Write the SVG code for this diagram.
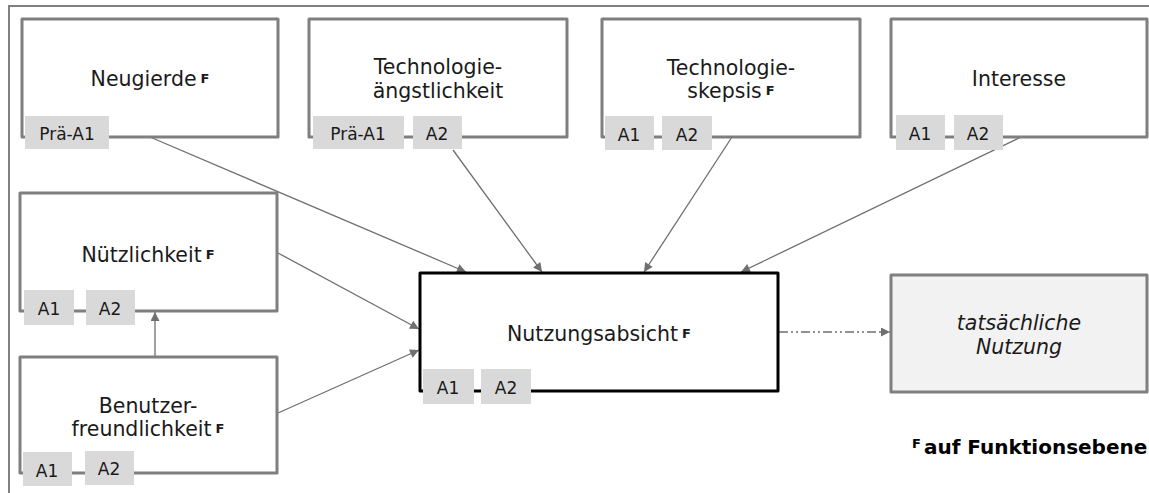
<svg xmlns="http://www.w3.org/2000/svg" width="1149" height="493" viewBox="0 0 1149 493">
  <style>
    .frame { fill: none; stroke: #808080; stroke-width: 2; }
    .box { fill: #ffffff; stroke: #7f7f7f; stroke-width: 3; stroke-linejoin: round; }
    .main { fill: #ffffff; stroke: #000000; stroke-width: 3; stroke-linejoin: round; }
    .out { fill: #f2f2f2; stroke: #7f7f7f; stroke-width: 3; stroke-linejoin: round; }
    .tag { fill: #d9d9d9; }
    .lbl { font-family: "DejaVu Sans", Verdana, sans-serif; font-size: 20.5px; fill: #1a1a1a; text-anchor: middle; }
    .it { font-style: italic; }
    .tagt { font-family: "DejaVu Sans", Verdana, sans-serif; font-size: 17px; fill: #1a1a1a; text-anchor: middle; }
    .sup { font-size: 13px; font-weight: bold; }
    .legend { font-family: "DejaVu Sans", Verdana, sans-serif; font-size: 20px; font-weight: bold; fill: #000000; }
    .edge { fill: none; stroke: #6f6f6f; stroke-width: 1.3; marker-end: url(#arrow); }
    .dash { stroke-dasharray: 9 3 2 3 2 3; }
  </style>
  <defs>
    <marker id="arrow" viewBox="0 0 10 10" refX="10" refY="5" markerWidth="11" markerHeight="9" markerUnits="userSpaceOnUse" orient="auto">
      <path d="M0,0 L10,5 L0,10 Z" fill="#6f6f6f"/>
    </marker>
  </defs>

  <!-- outer frame, open to the right and bottom -->
  <rect class="frame" x="9" y="6" width="1160" height="500"/>

  <g id="connectors">
    <line class="edge" x1="150" y1="137" x2="466" y2="272"/>
    <line class="edge" x1="453" y1="150" x2="542" y2="272"/>
    <line class="edge" x1="732" y1="137" x2="644" y2="272"/>
    <line class="edge" x1="1021" y1="137" x2="741" y2="272"/>
    <line class="edge" x1="278" y1="253" x2="419" y2="329"/>
    <line class="edge" x1="278" y1="413" x2="419" y2="350"/>
    <line class="edge" x1="155" y1="356" x2="155" y2="312"/>
    <line class="edge dash" x1="779" y1="332" x2="890" y2="332"/>
  </g>

  <g id="neugierde">
    <rect class="box" x="22" y="19" width="256" height="118"/>
    <text class="lbl" x="150" y="86">Neugierde<tspan class="sup" dx="4" dy="-3">F</tspan></text>
    <rect class="tag" x="25" y="116" width="84" height="33"/>
    <text class="tagt" x="67" y="140">Prä-A1</text>
  </g>

  <g id="technologieaengstlichkeit">
    <rect class="box" x="309" y="19" width="258" height="118"/>
    <text class="lbl" x="438" y="74">Technologie-</text>
    <text class="lbl" x="438" y="98">ängstlichkeit</text>
    <rect class="tag" x="313" y="116" width="91" height="33"/>
    <text class="tagt" x="358" y="140">Prä-A1</text>
    <rect class="tag" x="413" y="116" width="49" height="33"/>
    <text class="tagt" x="437" y="140">A2</text>
  </g>

  <g id="technologieskepsis">
    <rect class="box" x="602" y="19" width="258" height="118"/>
    <text class="lbl" x="731" y="75">Technologie-</text>
    <text class="lbl" x="731" y="98">skepsis<tspan class="sup" dx="4" dy="-3">F</tspan></text>
    <rect class="tag" x="605" y="116" width="49" height="34"/>
    <text class="tagt" x="629" y="141">A1</text>
    <rect class="tag" x="662" y="116" width="50" height="34"/>
    <text class="tagt" x="687" y="141">A2</text>
  </g>

  <g id="interesse">
    <rect class="box" x="891" y="19" width="256" height="118"/>
    <text class="lbl" x="1019" y="86">Interesse</text>
    <rect class="tag" x="896" y="115" width="49" height="35"/>
    <text class="tagt" x="920" y="140">A1</text>
    <rect class="tag" x="954" y="115" width="49" height="35"/>
    <text class="tagt" x="978" y="140">A2</text>
  </g>

  <g id="nuetzlichkeit">
    <rect class="box" x="20" y="193" width="257" height="118"/>
    <text class="lbl" x="148" y="262">Nützlichkeit<tspan class="sup" dx="4" dy="-3">F</tspan></text>
    <rect class="tag" x="24" y="290" width="50" height="35"/>
    <text class="tagt" x="49" y="315">A1</text>
    <rect class="tag" x="86" y="290" width="49" height="35"/>
    <text class="tagt" x="110" y="315">A2</text>
  </g>

  <g id="benutzerfreundlichkeit">
    <rect class="box" x="20" y="357" width="257" height="116"/>
    <text class="lbl" x="148" y="413">Benutzer-</text>
    <text class="lbl" x="148" y="436">freundlichkeit<tspan class="sup" dx="4" dy="-3">F</tspan></text>
    <rect class="tag" x="23" y="452" width="49" height="34"/>
    <text class="tagt" x="47" y="477">A1</text>
    <rect class="tag" x="85" y="451" width="49" height="34"/>
    <text class="tagt" x="109" y="475">A2</text>
  </g>

  <g id="nutzungsabsicht">
    <rect class="main" x="420" y="273" width="358" height="118"/>
    <text class="lbl" x="599" y="341">Nutzungsabsicht<tspan class="sup" dx="4" dy="-3">F</tspan></text>
    <rect class="tag" x="423" y="369" width="51" height="35"/>
    <text class="tagt" x="448" y="394">A1</text>
    <rect class="tag" x="481" y="369" width="50" height="35"/>
    <text class="tagt" x="506" y="394">A2</text>
  </g>

  <g id="tatsaechliche-nutzung">
    <rect class="out" x="891" y="275" width="256" height="117"/>
    <text class="lbl it" x="1019" y="330">tatsächliche</text>
    <text class="lbl it" x="1019" y="354">Nutzung</text>
  </g>

  <g id="legende">
    <text class="legend" x="912" y="454"><tspan class="sup" dy="-6">F</tspan><tspan dx="3" dy="6">auf Funktionsebene</tspan></text>
  </g>
</svg>
